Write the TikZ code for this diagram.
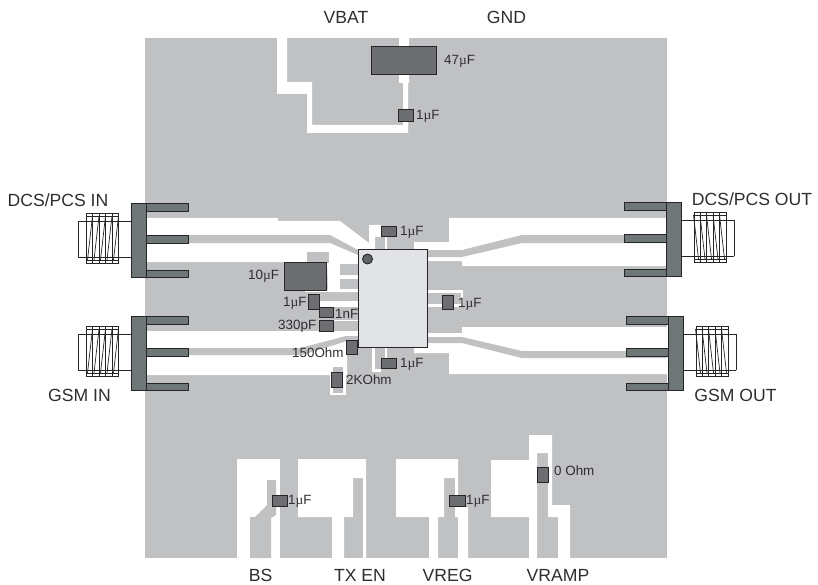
\documentclass[tikz,border=0pt]{standalone}
\usepackage{fontspec}
\setmainfont{Liberation Sans}
\newfontfamily\mufont{Liberation Serif}
\newcommand{\um}{{\mufont µ}}
\definecolor{board}{HTML}{C0C1C3}
\definecolor{capfill}{HTML}{6D6E72}
\definecolor{metal}{HTML}{6F7678}
\definecolor{chipfill}{HTML}{E1E3E7}
\definecolor{ink}{HTML}{2E2E30}
\tikzset{
  cu/.style={fill=white,draw=none},
  gr/.style={fill=board,draw=none},
  part/.style={fill=capfill,draw=black!85,line width=0.9pt},
  sm/.style={anchor=base west,inner sep=0,text=ink,font=\fontsize{13.4}{15}\selectfont,yshift=-4.8pt},
  lg/.style={anchor=base,inner sep=0,text=ink,font=\fontsize{17.6}{20}\selectfont,yshift=-6.2pt},
  wire/.style={draw=black!85,line width=0.7pt},
  pinbox/.style={fill=metal,draw=black!85,line width=0.9pt}
}
\newcommand{\rfconn}[3]{%
  \begin{scope}[shift={(#1,#2)},xscale=#3]
    \fill[white] (-53,10) rectangle (0,61);
    \draw[wire] (-53,18) -- (-53,54);
    \draw[wire] (-45,10) rectangle (-13,60);
    \draw[wire] (-53,18) -- (0,18) (-53,54) -- (0,54);
    \foreach \vx in {-38.5,-32,-25.5,-19}{\draw[wire] (\vx,10) -- (\vx,60);}
    \draw[wire] (-45,13) -- (-13,13) (-45,57) -- (-13,57);
    \foreach \vx in {-45,-38.5,-32,-25.5,-19}{\draw[wire] (\vx+1.5,57) -- (\vx+6.5,13);}
    \draw[pinbox] (15,0) rectangle (57,8);
    \draw[pinbox] (15,32) rectangle (57,40);
    \draw[pinbox] (15,67) rectangle (57,74);
    \draw[pinbox] (0,0) rectangle (15,74);
  \end{scope}}
\begin{document}
\begin{tikzpicture}[x=1pt,y=-1pt]
\useasboundingbox (0,0) rectangle (818,585);
\fill[white] (0,0) rectangle (818,585);
% board
\fill[board] (145,38) rectangle (667,558);
% top: VBAT and GND copper gaps
\fill[cu] (277,38) -- (287,38) -- (287,82) -- (312,82) -- (312,125) -- (403,125) -- (403,83) -- (399,83) -- (399,38) -- (409,38) -- (409,83) -- (408,83) -- (408,133) -- (307,133) -- (307,94) -- (277,94) -- cycle;
% left upper gap
\fill[cu] (145,218) -- (278,218) -- (278,221) -- (340,221) -- (369,243) -- (369,225) -- (381,225) -- (381,237) -- (375,237) -- (375,250) -- (358,250) -- (358,292) -- (328,292) -- (327,262) -- (145,262) -- cycle;
\fill[gr] (145,235) -- (330,235) -- (358,250) -- (358,255) -- (330,243) -- (145,243) -- cycle;
\fill[gr] (307,252) rectangle (329,263);
\fill[gr] (340,264) rectangle (358,275);
\fill[gr] (340,279) rectangle (358,289);
\fill[cu] (305,290) rectangle (358,292);
\fill[cu] (385,236) rectangle (387,249);
% pads left of the chip
\fill[cu] (319,301) rectangle (358,307);
\fill[cu] (333,320) rectangle (358,321);
% left lower gap
\fill[cu] (145,331) -- (358,331) -- (358,347) -- (347,347) -- (347,375) -- (145,375) -- cycle;
\fill[gr] (145,348) -- (300,348) -- (346,336) -- (358,336) -- (358,341) -- (347,341) -- (302,355) -- (145,355) -- cycle;
\fill[cu] (372,347) rectangle (375,372);
\fill[cu] (372,369) rectangle (381,372);
\fill[cu] (385,347) rectangle (387,358);
% right upper gap
\fill[cu] (414,242) -- (449,242) -- (449,218) -- (667,218) -- (667,266) -- (462,266) -- (462,261) -- (427,261) -- (427,250) -- (414,250) -- cycle;
\fill[gr] (427,250) -- (462,250) -- (522,235) -- (667,235) -- (667,243) -- (522,243) -- (462,257) -- (427,257) -- cycle;
% right lower gap
\fill[cu] (427,333) -- (462,333) -- (462,327) -- (667,327) -- (667,374) -- (449,374) -- (449,353) -- (414,353) -- (414,347) -- (427,347) -- cycle;
\fill[gr] (427,337) -- (462,337) -- (522,351) -- (667,351) -- (667,358) -- (522,358) -- (462,343) -- (427,343) -- cycle;
% right-side decoupling ring
\fill[cu] (427,290) rectangle (462,292.5);
\fill[cu] (460.5,290) rectangle (462.5,307);
\fill[cu] (427,304) rectangle (462,307);
% 2 kOhm ring
\fill[cu] (330,365) rectangle (346,395);
\fill[gr] (332.5,367) rectangle (342.5,393);
% bottom: BS
\fill[cu] (237,558) -- (237,459) -- (280,459) -- (280,558) -- cycle;
\fill[gr] (250,558) -- (250,517) -- (255,517) -- (267,505) -- (267,480) -- (276,480) -- (276,515) -- (271,518) -- (271,558) -- cycle;
% bottom: TX EN
\fill[cu] (298,459) -- (366,459) -- (366,558) -- (363,558) -- (363,478) -- (353,478) -- (353,517) -- (344,517) -- (344,558) -- (332,558) -- (332,517) -- (298,517) -- cycle;
% bottom: VREG
\fill[cu] (396,459) -- (458,459) -- (458,507) -- (468,507) -- (468,558) -- (458,558) -- (458,517) -- (455,517) -- (455,478) -- (444,478) -- (444,517) -- (438,517) -- (438,558) -- (429,558) -- (429,517) -- (396,517) -- cycle;
% bottom: VRAMP
\fill[cu] (491,460) -- (529,460) -- (529,435) -- (552,435) -- (552,505) -- (570,505) -- (570,558) -- (558,558) -- (558,517) -- (548,517) -- (548,453) -- (537,453) -- (537,558) -- (529,558) -- (529,517) -- (491,517) -- cycle;
% RF connectors
\rfconn{131}{203}{1}
\rfconn{131}{316}{1}
\rfconn{681}{202}{-1}
\rfconn{683}{316}{-1}
% chip
\draw[fill=chipfill,draw=black!85,line width=1pt] (358,249) rectangle (427,347);
\draw[fill=metal!85!black,draw=black!85,line width=0.9pt] (367.5,259) circle (5);
% parts
\draw[part] (371,46) rectangle (436,74);
\draw[part] (398,109.5) rectangle (413,121);
\draw[part] (381,226) rectangle (396,236);
\draw[part] (442.5,295) rectangle (453,309);
\draw[part] (381,358) rectangle (396,368);
\draw[part] (284,262) rectangle (326,290);
\draw[part] (308.5,294.5) rectangle (319,309);
\draw[part] (319,307) rectangle (333,317);
\draw[part] (319,320.5) rectangle (333,331);
\draw[part] (346,340) rectangle (357,354);
\draw[part] (331.5,372.5) rectangle (342,387);
\draw[part] (272,495) rectangle (287,506);
\draw[part] (449,495) rectangle (465,506);
\draw[part] (537,467) rectangle (548,482);
% labels
\node[lg] (vbat) at (346,17) {VBAT};
\node[lg] (gnd) at (506.5,17) {GND};
\node[lg] (dcsin) at (58,200) {DCS/PCS IN};
\node[lg] (gsmin) at (79.5,395) {GSM IN};
\node[lg] (dcsout) at (752,199) {DCS/PCS OUT};
\node[lg] (gsmout) at (735.5,395) {GSM OUT};
\node[lg] (bs) at (260.5,575.5) {BS};
\node[lg] (txen) at (360,575.5) {TX EN};
\node[lg] (vreg) at (447.5,575.5) {VREG};
\node[lg] (vramp) at (558,575.5) {VRAMP};
\node[sm] (l47) at (444,60) {47\um F};
\node[sm] (l1a) at (416,115) {1\um F};
\node[sm] (l1b) at (400,231) {1\um F};
\node[sm] (l1c) at (400,363) {1\um F};
\node[sm] (l1d) at (458,303) {1\um F};
\node[sm] (l10) at (248,275) {10\um F};
\node[sm] (l1e) at (283,302) {1\um F};
\node[sm] (l1n) at (335,314) {1nF};
\node[sm] (l330) at (278,325) {330pF};
\node[sm] (l150) at (292,353) {150Ohm};
\node[sm] (l2k) at (346,380) {2KOhm};
\node[sm] (l1f) at (288,500) {1\um F};
\node[sm] (l1g) at (466,500) {1\um F};
\node[sm] (l0) at (554,471) {0 Ohm};
\end{tikzpicture}
\end{document}
